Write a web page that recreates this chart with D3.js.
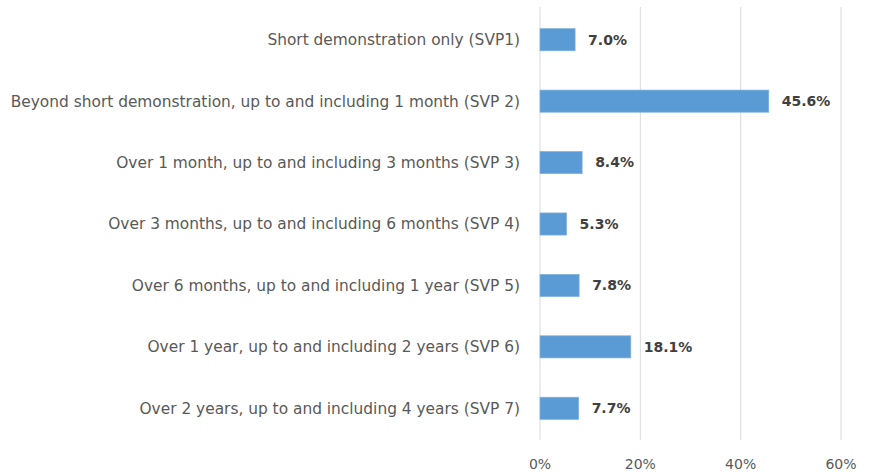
<!DOCTYPE html>
<html>
<head>
<meta charset="utf-8">
<script src="https://cdn.jsdelivr.net/npm/d3@7"></script>
<style>
  body { margin: 0; background: #fff; }
  svg { font-family: "DejaVu Sans", sans-serif; }
</style>
</head>
<body>
<svg width="871" height="472"></svg>
<script>
// categories and values
var categories = [
  "Short demonstration only (SVP1)",
  "Beyond short demonstration, up to and including 1 month (SVP 2)",
  "Over 1 month, up to and including 3 months (SVP 3)",
  "Over 3 months, up to and including 6 months (SVP 4)",
  "Over 6 months, up to and including 1 year (SVP 5)",
  "Over 1 year, up to and including 2 years (SVP 6)",
  "Over 2 years, up to and including 4 years (SVP 7)"
];
var values = [7.0, 45.6, 8.4, 5.3, 7.8, 18.1, 7.7];
var ticks = [0, 20, 40, 60];

var svg = d3.select("svg");
var margin = { left: 540, top: 9, bottom: 33 };

var x = d3.scaleLinear().domain([0, 60]).range([margin.left, 841]);
var y = d3.scaleBand().domain(categories).range([margin.top, 472 - margin.bottom]).paddingInner(0.64).paddingOuter(0.32);

// gridlines
svg.append("g").selectAll("line")
  .data(ticks)
  .enter().append("line")
  .attr("x1", d => x(d)).attr("x2", d => x(d))
  .attr("y1", 7).attr("y2", 440)
  .attr("stroke", "#d9d9d9").attr("stroke-width", 1);

// x tick labels
svg.append("g").selectAll("text")
  .data(ticks)
  .enter().append("text")
  .attr("x", d => x(d)).attr("y", 469)
  .attr("text-anchor", "middle")
  .attr("fill", "#595959")
  .style("font-size", "14px")
  .text(d => d + "%");

// bars
svg.append("g").selectAll("rect")
  .data(values)
  .enter().append("rect")
  .attr("x", x(0))
  .attr("y", (d, i) => y(categories[i]))
  .attr("width", d => x(d) - x(0))
  .attr("height", y.bandwidth())
  .attr("fill", "#5b9bd5")
  .attr("stroke", "#7fb0de").attr("stroke-width", 0.7);

// value labels
svg.append("g").selectAll("text")
  .data(values)
  .enter().append("text")
  .attr("x", d => x(d) + 13)
  .attr("y", (d, i) => y(categories[i]) + y.bandwidth() / 2)
  .attr("dy", "0.35em")
  .attr("fill", "#404040")
  .style("font-size", "14px")
  .style("font-weight", "bold")
  .text(d => d.toFixed(1) + "%");

// category labels
svg.append("g").selectAll("text")
  .data(categories)
  .enter().append("text")
  .attr("x", 520)
  .attr("y", d => y(d) + y.bandwidth() / 2)
  .attr("dy", "0.35em")
  .attr("text-anchor", "end")
  .attr("fill", "#595959")
  .style("font-size", "15.4px")
  .text(d => d);
</script>
</body>
</html>
